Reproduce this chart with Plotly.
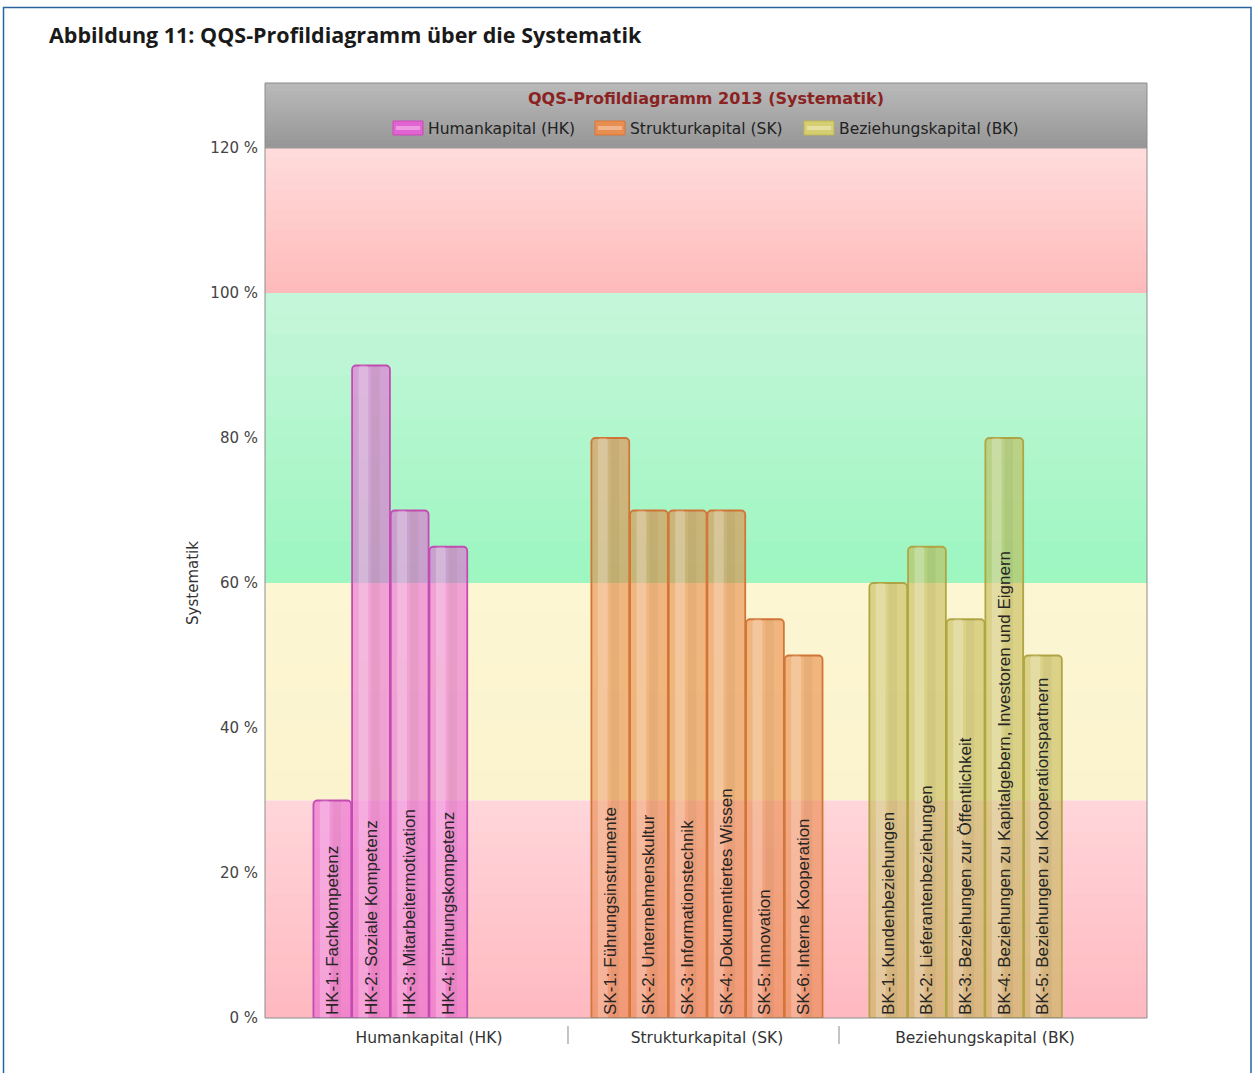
import plotly.graph_objects as go

# ---------------- data ----------------
groups = ["Humankapital (HK)", "Strukturkapital (SK)", "Beziehungskapital (BK)"]

hk_labels = ["HK-1: Fachkompetenz", "HK-2: Soziale Kompetenz",
             "HK-3: Mitarbeitermotivation", "HK-4: Führungskompetenz"]
hk_values = [30, 90, 70, 65]

sk_labels = ["SK-1: Führungsinstrumente", "SK-2: Unternehmenskultur",
             "SK-3: Informationstechnik", "SK-4: Dokumentiertes Wissen",
             "SK-5: Innovation", "SK-6: Interne Kooperation"]
sk_values = [80, 70, 70, 70, 55, 50]

bk_labels = ["BK-1: Kundenbeziehungen", "BK-2: Lieferantenbeziehungen",
             "BK-3: Beziehungen zur Öffentlichkeit",
             "BK-4: Beziehungen zu Kapitalgebern, Investoren und Eignern",
             "BK-5: Beziehungen zu Kooperationspartnern"]
bk_values = [60, 65, 55, 80, 50]

y_ticks = [0, 20, 40, 60, 80, 100, 120]
y_tick_text = ["0 %", "20 %", "40 %", "60 %", "80 %", "100 %", "120 %"]

# background zones (lower, upper, top colour, bottom colour)
zone_lower = [100, 60, 30, 0]
zone_upper = [120, 100, 60, 30]
zone_top_col = [(255, 220, 220), (198, 246, 218), (252, 246, 210), (255, 214, 218)]
zone_bot_col = [(255, 186, 186), (156, 246, 192), (251, 243, 206), (255, 184, 192)]

# ---------------- styling ----------------
W, H = 1255, 1073
ML, MT, MR, MB = 265, 148, 108, 55
PW, PH = W - ML - MR, H - MT - MB

SLOT = 0.1391
BARW = 0.136
XMIN, XMAX = -0.59, 2.583

fills = ["rgba(232,95,212,0.56)", "rgba(232,130,62,0.56)", "rgba(192,182,78,0.56)"]
lines = ["#c24cb2", "#d27637", "#b0a544"]
legend_fill = ["#e264d2", "#e88e50", "#d6cf72"]
legend_line = ["#c94ab8", "#d4783a", "#bdb455"]
legend_px = [393, 595, 804]  # left edge of legend swatches (px)

FONT = "DejaVu Sans, Verdana, sans-serif"
BARFONT = "Liberation Sans, Arial, sans-serif"


def px_to_paper_x(px):
    return (px - ML) / PW


def px_to_paper_y(py):
    return (H - MB - py) / PH


fig = go.Figure()

series = [(hk_labels, hk_values), (sk_labels, sk_values), (bk_labels, bk_values)]
for g, (labs, vals) in enumerate(series):
    xs = [g + (j - 2.5) * SLOT for j in range(len(vals))]
    fig.add_trace(go.Bar(
        x=xs, y=vals, width=[BARW] * len(vals), name=groups[g],
        marker=dict(color=fills[g], line=dict(color=lines[g], width=1.8), cornerradius=4),
        hoverinfo="skip", showlegend=False))
    fig.add_trace(go.Bar(
        x=[x - 0.2 * BARW for x in xs], y=vals, width=[0.26 * BARW] * len(vals),
        marker=dict(color="rgba(255,255,255,0.24)", line=dict(width=0), cornerradius=3),
        hoverinfo="skip", showlegend=False))
    fig.add_trace(go.Bar(
        x=[x + 0.12 * BARW for x in xs], y=vals, width=[0.22 * BARW] * len(vals),
        marker=dict(color="rgba(90,60,20,0.06)", line=dict(width=0), cornerradius=2),
        hoverinfo="skip", showlegend=False))
    fig.add_trace(go.Bar(
        x=xs, y=vals, width=[BARW] * len(vals), text=labs,
        textposition="inside", insidetextanchor="start", textangle=-90,
        constraintext="none", cliponaxis=False,
        textfont=dict(family=BARFONT, size=17, color="#262626"),
        marker=dict(color="rgba(0,0,0,0)", line=dict(width=0)),
        hoverinfo="skip", showlegend=False))

shapes = []
# gradient background zones (drawn top to bottom, each strip slightly overlapping the next)
STEPS = 14
for lo, hi, ct, cb in zip(zone_lower, zone_upper, zone_top_col, zone_bot_col):
    for s in range(STEPS):
        y_top = hi - (hi - lo) * s / STEPS
        y_bot = hi - (hi - lo) * (s + 1) / STEPS
        ext = 0.35 if s < STEPS - 1 else 0.0
        t = (s + 0.5) / STEPS
        c = tuple(round(ct[k] + (cb[k] - ct[k]) * t) for k in range(3))
        shapes.append(dict(type="rect", xref="x", yref="y", x0=XMIN, x1=XMAX,
                           y0=y_bot - ext, y1=y_top, fillcolor="rgb(%d,%d,%d)" % c,
                           line=dict(width=0), layer="below"))

# header band with gradient
hdr_top, hdr_bot = px_to_paper_y(83), 1.0
HSTEPS = 16
for s in range(HSTEPS):
    y_top = hdr_top - (hdr_top - hdr_bot) * s / HSTEPS
    y_bot = hdr_top - (hdr_top - hdr_bot) * (s + 1) / HSTEPS
    ext = 0.003 if s < HSTEPS - 1 else 0.0
    t = (s + 0.5) / HSTEPS
    v = round(186 + (150 - 186) * t)
    shapes.append(dict(type="rect", xref="paper", yref="paper", x0=0, x1=1,
                       y0=y_bot - ext, y1=y_top, fillcolor="rgb(%d,%d,%d)" % (v, v, v),
                       line=dict(width=0), layer="below"))

# plot border
shapes.append(dict(type="rect", xref="paper", yref="paper", x0=0, x1=1, y0=0, y1=hdr_top,
                   line=dict(color="#8c8c8c", width=1), layer="above"))
shapes.append(dict(type="line", xref="paper", yref="paper", x0=0, x1=1, y0=1, y1=1,
                   line=dict(color="#9a9a9a", width=1), layer="above"))

# group separators on the x axis
for sx in [0.5, 1.475]:
    shapes.append(dict(type="line", xref="x", yref="paper", x0=sx, x1=sx,
                       y0=px_to_paper_y(1026), y1=px_to_paper_y(1044),
                       line=dict(color="#8a8a8a", width=1)))

# outer blue frame
shapes.append(dict(type="rect", xref="paper", yref="paper",
                   x0=px_to_paper_x(3.5), x1=px_to_paper_x(1251),
                   y0=px_to_paper_y(1100), y1=px_to_paper_y(7.5),
                   line=dict(color="#2a64a0", width=1.5)))

annotations = [
    dict(text="Abbildung 11: QQS-Profildiagramm über die Systematik",
         xref="paper", yref="paper", x=px_to_paper_x(47), y=px_to_paper_y(35),
         xanchor="left", yanchor="middle", showarrow=False,
         font=dict(family="Open Sans, Liberation Sans, sans-serif", size=21.5,
                   color="#1a1a1a", weight=700)),
    dict(text="<b>QQS-Profildiagramm 2013 (Systematik)</b>",
         xref="paper", yref="paper", x=0.5, y=px_to_paper_y(99),
         xanchor="center", yanchor="middle", showarrow=False,
         font=dict(family=FONT, size=16, color="#8b2222")),
]

# custom legend (wide swatches as in the original)
for g, name in enumerate(groups):
    x0 = legend_px[g]
    shapes.append(dict(type="rect", xref="paper", yref="paper",
                       x0=px_to_paper_x(x0), x1=px_to_paper_x(x0 + 30),
                       y0=px_to_paper_y(135), y1=px_to_paper_y(121),
                       fillcolor=legend_fill[g], line=dict(color=legend_line[g], width=1)))
    shapes.append(dict(type="rect", xref="paper", yref="paper",
                       x0=px_to_paper_x(x0 + 3), x1=px_to_paper_x(x0 + 27),
                       y0=px_to_paper_y(130), y1=px_to_paper_y(126),
                       fillcolor="rgba(255,255,255,0.35)", line=dict(width=0)))
    annotations.append(dict(text=name, xref="paper", yref="paper",
                            x=px_to_paper_x(x0 + 33), y=px_to_paper_y(128.5),
                            xanchor="left", yanchor="middle", showarrow=False,
                            font=dict(family=FONT, size=15.5, color="#222222")))

fig.update_layout(
    width=W, height=H, autosize=False,
    margin=dict(l=ML, r=MR, t=MT, b=MB),
    paper_bgcolor="white", plot_bgcolor="rgba(0,0,0,0)",
    barmode="overlay",
    shapes=shapes, annotations=annotations,
    showlegend=False,
    xaxis=dict(range=[XMIN, XMAX], tickvals=[0, 1, 2], ticktext=groups,
               showgrid=False, zeroline=False, showline=False, ticks="",
               tickfont=dict(family=FONT, size=15.5, color="#333333"),
               ticklabelstandoff=8, fixedrange=True),
    yaxis=dict(range=[0, 120], tickvals=y_ticks, ticktext=y_tick_text,
               showgrid=False, zeroline=False, showline=False, ticks="",
               tickfont=dict(family=FONT, size=15, color="#444444"),
               ticklabelstandoff=6,
               title=dict(text="Systematik", standoff=8,
                          font=dict(family=FONT, size=15, color="#333333")),
               fixedrange=True),
)

fig.write_html("out.html",
               config={"displayModeBar": False},
               post_script="document.body.style.margin='0';"
                           "document.body.style.overflow='hidden';")
